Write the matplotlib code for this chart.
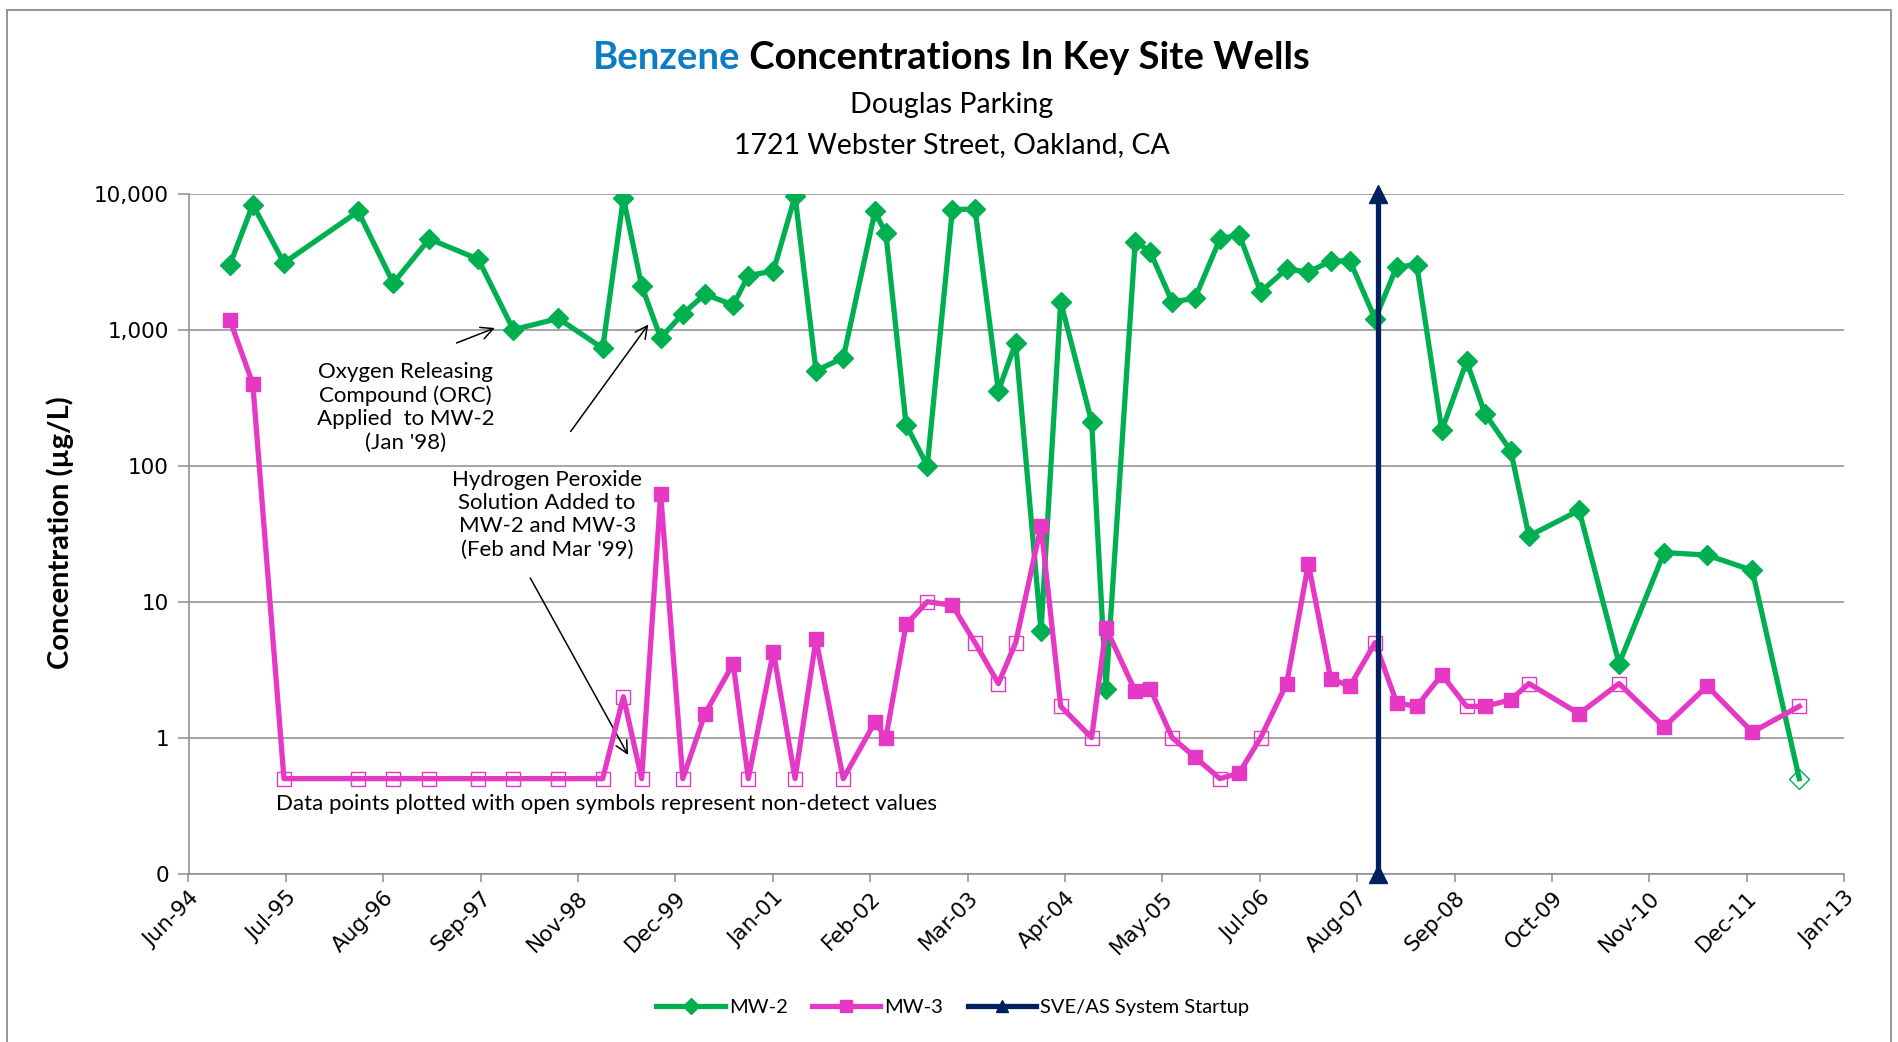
import matplotlib
matplotlib.use('Agg')
import numpy as np
import pandas as pd
import matplotlib.pyplot as plt
from matplotlib.lines import Line2D
from matplotlib.patches import Rectangle
from matplotlib.ticker import NullLocator

# sample dates (shared by both wells)
dates = ['1994-12-03', '1995-03-07', '1995-07-13', '1996-05-13', '1996-10-04', '1997-03-01', '1997-09-18', '1998-02-09',
         '1998-08-13', '1999-02-11', '1999-05-07', '1999-07-21', '1999-10-07', '2000-01-06', '2000-04-06', '2000-07-31',
         '2000-10-01', '2001-01-12', '2001-04-11', '2001-07-06', '2001-10-26', '2002-03-05', '2002-04-19', '2002-07-11',
         '2002-10-06', '2003-01-17', '2003-04-20', '2003-07-25', '2003-10-04', '2004-01-16', '2004-04-06', '2004-08-11',
         '2004-10-09', '2005-02-06', '2005-04-08', '2005-07-08', '2005-10-09', '2006-01-20', '2006-04-09', '2006-07-06',
         '2006-10-21', '2007-01-18', '2007-04-20', '2007-07-08', '2007-10-19', '2008-01-16', '2008-04-07', '2008-07-19',
         '2008-10-29', '2009-01-12', '2009-04-28', '2009-07-12', '2010-02-03', '2010-07-17', '2011-01-18', '2011-07-14',
         '2012-01-15', '2012-07-26']

mw2 = [3000, 8300, 3100, 7400, 2200, 4650, 3300, 1000, 1210, 730,
       9300, 2100, 870, 1310, 1820, 1520, 2500, 2700, 9600, 500,
       620, 7400, 5100, 200, 100, 7650, 7700, 355, 800, 6.1,
       1600, 210, 2.3, 4450, 3750, 1600, 1700, 4650, 5000, 1900,
       2800, 2650, 3200, 3200, 1200, 2900, 3000, 182, 585, 242,
       129, 30.4, 47, 3.5, 23, 22, 17, 0.5]
# 1 = non-detect (open symbol)
mw2_nd = [0, 0, 0, 0, 0, 0, 0, 0, 0, 0,
          0, 0, 0, 0, 0, 0, 0, 0, 0, 0,
          0, 0, 0, 0, 0, 0, 0, 0, 0, 0,
          0, 0, 0, 0, 0, 0, 0, 0, 0, 0,
          0, 0, 0, 0, 0, 0, 0, 0, 0, 0,
          0, 0, 0, 0, 0, 0, 0, 1]

mw3 = [1180, 400, 0.5, 0.5, 0.5, 0.5, 0.5, 0.5, 0.5, 0.5,
       2.0, 0.5, 62, 0.5, 1.5, 3.5, 0.5, 4.3, 0.5, 5.3,
       0.5, 1.3, 1.0, 6.8, 10, 9.4, 5.0, 2.5, 5.0, 36,
       1.7, 1.0, 6.4, 2.2, 2.3, 1.0, 0.72, 0.5, 0.55, 1.0,
       2.5, 19, 2.7, 2.4, 5.0, 1.8, 1.7, 2.9, 1.7, 1.7,
       1.9, 2.5, 1.5, 2.5, 1.2, 2.4, 1.1, 1.7]
mw3_nd = [0, 0, 1, 1, 1, 1, 1, 1, 1, 1,
          1, 1, 0, 1, 0, 0, 1, 0, 1, 0,
          1, 0, 0, 0, 1, 0, 1, 1, 1, 0,
          1, 1, 0, 0, 0, 1, 0, 1, 0, 1,
          0, 0, 0, 0, 1, 0, 0, 0, 1, 0,
          0, 1, 0, 1, 0, 0, 0, 1]

sve_dates = ['2007-11-01', '2007-11-01']
sve_vals = [0.1, 10000]

xtick_labels = ['Jun-94', 'Jul-95', 'Aug-96', 'Sep-97', 'Nov-98', 'Dec-99', 'Jan-01', 'Feb-02', 'Mar-03',
                'Apr-04', 'May-05', 'Jul-06', 'Aug-07', 'Sep-08', 'Oct-09', 'Nov-10', 'Dec-11', 'Jan-13']
ytick_vals = [0.1, 1, 10, 100, 1000, 10000]
ytick_labels = ['0', '1', '10', '100', '1,000', '10,000']

green = '#00B050'
pink = '#E538C4'
navy = '#002060'
gray = '#8C8C8C'
W, H = 1898, 1042

fig = plt.figure(figsize=(W / 100, H / 100), dpi=100)
ax = fig.add_axes([188.5 / W, 1 - 873.7 / H, 1655.8 / W, 680.0 / H])

x = pd.to_datetime(dates)
mw2 = np.array(mw2)
mw3 = np.array(mw3)
nd2 = np.array(mw2_nd, bool)
nd3 = np.array(mw3_nd, bool)

# MW-2
ax.plot(x[~nd2], mw2[~nd2], 'D', color=green, ms=10.5, ls='none', zorder=3)
ax.plot(x[nd2], mw2[nd2], 'D', mfc='none', mec=green, mew=1, ms=10.5, ls='none', zorder=3)
ax.plot(x, mw2, color=green, lw=3.8, zorder=4)

# MW-3
ax.plot(x[~nd3], mw3[~nd3], 's', color=pink, ms=10.5, ls='none', zorder=5)
ax.plot(x[nd3], mw3[nd3], 's', mfc='none', mec=pink, mew=1, ms=10, ls='none', zorder=5)
ax.plot(x, mw3, color=pink, lw=3.8, zorder=6)

# SVE/AS startup
ax.plot(pd.to_datetime(sve_dates), sve_vals, color=navy, lw=3.8, marker='^', ms=13, zorder=7, clip_on=False)

ax.set_yscale('log')
ax.set_ylim(0.1, 10000)
ax.set_yticks(ytick_vals)
ax.set_yticklabels(ytick_labels)
ax.yaxis.set_minor_locator(NullLocator())

start = pd.Timestamp('1994-06-16')
xticks = [start + pd.Timedelta(days=400 * i) for i in range(len(xtick_labels))]
ax.set_xlim(xticks[0], xticks[-1])
ax.set_xticks(xticks)
ax.set_xticklabels(xtick_labels, rotation=45, ha='right', rotation_mode='anchor')

ax.yaxis.grid(True, color=gray, lw=1.1)
ax.set_axisbelow(True)
for s in ['top', 'right']:
    ax.spines[s].set_visible(False)
for s in ['left', 'bottom']:
    ax.spines[s].set_color(gray)
    ax.spines[s].set_linewidth(1.1)
ax.tick_params(axis='both', colors=gray, labelcolor='black', labelsize=15.5, width=1.1)
ax.tick_params(axis='y', length=8, pad=6)
ax.tick_params(axis='x', length=6, pad=4)

# annotations
akw = dict(fontsize=16, family='Lato', ha='center', va='center', linespacing=1.2)
ax.text(0.131, 0.686, "Oxygen Releasing\nCompound (ORC)\nApplied  to MW-2\n(Jan '98)", transform=ax.transAxes, **akw)
ax.text(0.2166, 0.528, "Hydrogen Peroxide\nSolution Added to\nMW-2 and MW-3\n(Feb and Mar '99)", transform=ax.transAxes, **akw)
ax.text(0.2524, 0.103, "Data points plotted with open symbols represent non-detect values", transform=ax.transAxes, **akw)
arw = dict(arrowstyle='->', color='black', lw=1.1, mutation_scale=22)
ax.annotate('', xy=(0.1866, 0.804), xytext=(0.1603, 0.779), xycoords='axes fraction', arrowprops=arw)
ax.annotate('', xy=(0.2787, 0.811), xytext=(0.2298, 0.647), xycoords='axes fraction', arrowprops=arw)
ax.annotate('', xy=(0.2663, 0.171), xytext=(0.2056, 0.4385), xycoords='axes fraction', arrowprops=arw)

# y label
fig.text(60 / W, 1 - 533 / H, 'Concentration (µg/L)', rotation=90, ha='center', va='center',
         fontsize=21, fontweight='bold', family='Lato')

# title in two colours
tkw = dict(fontsize=27.5, fontweight='bold', family='Lato', va='center')
t1 = fig.text(0, 1 - 58 / H, 'Benzene', color='#0C7DC4', **tkw)
t2 = fig.text(0, 1 - 58 / H, ' Concentrations In Key Site Wells', color='black', **tkw)
fig.canvas.draw()
r = fig.canvas.get_renderer()
w1 = t1.get_window_extent(r).width
w2 = t2.get_window_extent(r).width
x0 = 951.5 - (w1 + w2) / 2
t1.set_x(x0 / W)
t2.set_x((x0 + w1) / W)

fig.text(951.5 / W, 1 - 105 / H, 'Douglas Parking', ha='center', va='center', fontsize=20.5, family='Lato')
fig.text(951.5 / W, 1 - 145 / H, '1721 Webster Street, Oakland, CA', ha='center', va='center', fontsize=20.5, family='Lato')

# legend
handles = [Line2D([], [], color=green, lw=3.8, marker='D', ms=8),
           Line2D([], [], color=pink, lw=3.8, marker='s', ms=9),
           Line2D([], [], color=navy, lw=3.8, marker='^', ms=9)]
fig.legend(handles, ['MW-2', 'MW-3', 'SVE/AS System Startup'], loc='center', bbox_to_anchor=(0.502, 1 - 1007 / H),
           ncol=3, frameon=False, handlelength=3.4, columnspacing=1.2, handletextpad=0.2,
           prop={'family': 'Lato', 'size': 14.5})

# chart border
fig.patches.append(Rectangle((7 / W, -0.05), 1884 / W, 1.05 - 10 / H, transform=fig.transFigure,
                             fill=False, edgecolor=gray, lw=1.3))

fig.savefig('out.png', dpi=100)
